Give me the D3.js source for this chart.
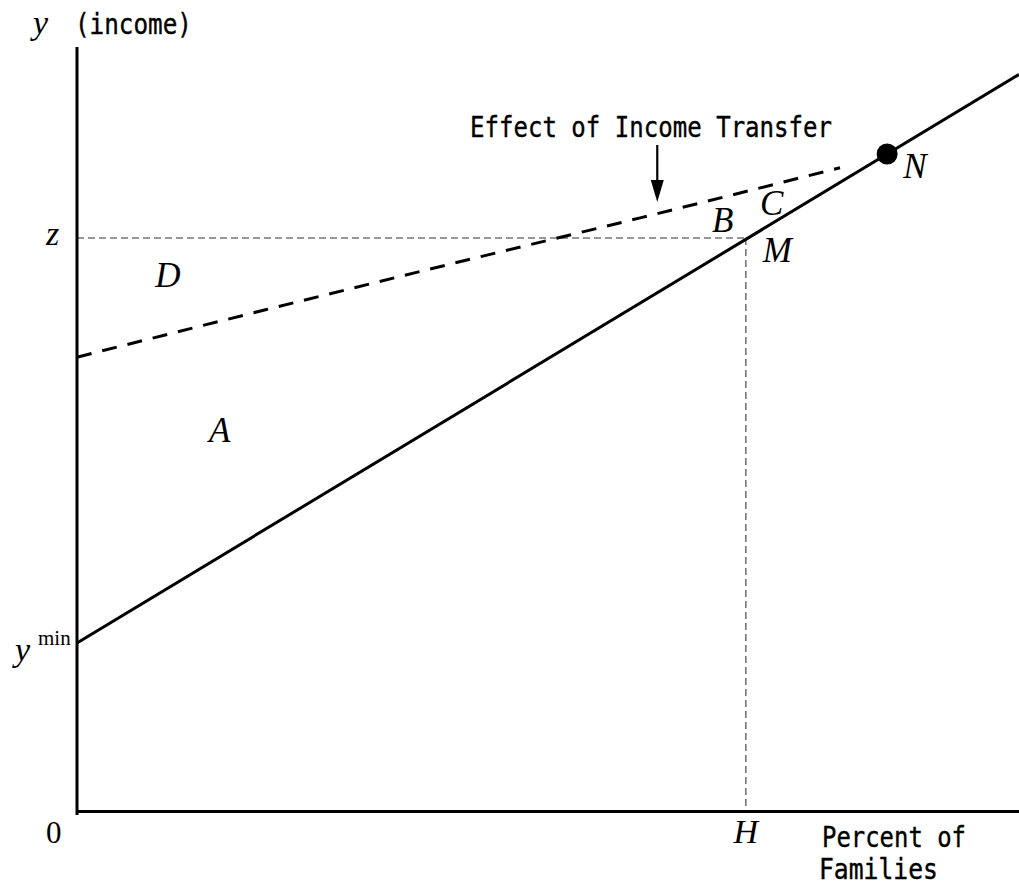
<!DOCTYPE html>
<html>
<head>
<meta charset="utf-8">
<script src="https://cdn.jsdelivr.net/npm/d3@7"></script>
<style>
  html, body { margin: 0; padding: 0; background: #fff; }
  svg { display: block; }
  .it { font-family: "Liberation Serif", "Times New Roman", serif; font-style: italic; fill: #000; }
  .rm { font-family: "Liberation Serif", "Times New Roman", serif; fill: #000; }
  .mono { font-family: "DejaVu Sans Mono", monospace; fill: #000; stroke: #000; stroke-width: 0.4; }
</style>
</head>
<body>
<svg id="chart" width="1019" height="887"></svg>
<script>
// ---- data (in chart units: x = percent of families 0..100, y = income 0..100) ----
const xDomain = [0, 100];
const yDomain = [0, 100];
const incomeLineX = [0, 100];            // solid income distribution line
const incomeLineY = [22, 96.4];
const transferX = [0, 20, 40, 60, 81];   // dashed post-transfer curve
const transferY = [59.4, 65.6, 71.7, 77.7, 84.2];
const povertyLine = 75;                  // z
const headcount = 71;                    // H
const pointN = [86, 86.0];
const areaLabels = ["A", "B", "C", "D"];
const areaLabelX = [14.0, 67.4, 72.5, 8.3];
const areaLabelY = [48.3, 75.8, 78.0, 68.6];
const pointLabels = ["M", "N"];
const pointLabelX = [72.8, 87.7];
const pointLabelY = [71.9, 82.9];

const svg = d3.select("#chart");
const x = d3.scaleLinear().domain(xDomain).range([77, 1019]);
const y = d3.scaleLinear().domain(yDomain).range([811, 47]);

// reference dashed lines (z and H)
svg.append("line")
  .attr("x1", x(0)).attr("x2", x(headcount))
  .attr("y1", y(povertyLine)).attr("y2", y(povertyLine))
  .attr("stroke", "#777").attr("stroke-width", 1.6).attr("stroke-dasharray", "7,4");
svg.append("line")
  .attr("x1", x(headcount)).attr("x2", x(headcount))
  .attr("y1", y(povertyLine)).attr("y2", y(0))
  .attr("stroke", "#777").attr("stroke-width", 1.6).attr("stroke-dasharray", "7,4");

// axes
const xAxis = d3.axisBottom(x).tickValues([]).tickSizeOuter(0);
const yAxis = d3.axisLeft(y).tickValues([]).tickSizeOuter(0);
const gx = svg.append("g").attr("transform", `translate(0,${y(0)})`).call(xAxis);
const gy = svg.append("g").attr("transform", `translate(${x(0)},0)`).call(yAxis);
gx.select(".domain").attr("stroke", "#000").attr("stroke-width", 3);
gy.select(".domain").attr("stroke", "#000").attr("stroke-width", 3)
  .attr("d", `M0,${y(100)}V${y(0) + 4}`);

// solid income line
const line = d3.line().x(d => x(d[0])).y(d => y(d[1]));
svg.append("path")
  .datum(d3.zip(incomeLineX, incomeLineY))
  .attr("d", line)
  .attr("fill", "none").attr("stroke", "#000").attr("stroke-width", 3);

// dashed transfer curve
const curve = d3.line().x(d => x(d[0])).y(d => y(d[1])).curve(d3.curveMonotoneX);
svg.append("path")
  .datum(d3.zip(transferX, transferY))
  .attr("d", curve)
  .attr("fill", "none").attr("stroke", "#000").attr("stroke-width", 3)
  .attr("stroke-dasharray", "15,11");

// point N
svg.append("circle")
  .attr("cx", x(pointN[0])).attr("cy", y(pointN[1])).attr("r", 10.5)
  .attr("fill", "#000");

// arrow
const ax = x(61.6);
svg.append("line")
  .attr("x1", ax).attr("x2", ax).attr("y1", 145).attr("y2", 190)
  .attr("stroke", "#000").attr("stroke-width", 2.2);
svg.append("path")
  .attr("d", `M${ax - 6.5},180 L${ax},202 L${ax + 6.5},180 Z`)
  .attr("fill", "#000");

// annotation
svg.append("text").attr("class", "mono")
  .attr("x", 470).attr("y", 137).attr("font-size", 29)
  .attr("textLength", 362).attr("lengthAdjust", "spacingAndGlyphs")
  .text("Effect of Income Transfer");

// axis titles
svg.append("text").attr("class", "it").attr("x", 33).attr("y", 34).attr("font-size", 34).text("y");
svg.append("text").attr("class", "mono").attr("x", 75).attr("y", 34).attr("font-size", 29)
  .attr("textLength", 117).attr("lengthAdjust", "spacingAndGlyphs").text("(income)");
svg.append("text").attr("class", "mono").attr("x", 822).attr("y", 847).attr("font-size", 29)
  .attr("textLength", 144).attr("lengthAdjust", "spacingAndGlyphs").text("Percent of");
svg.append("text").attr("class", "mono").attr("x", 819).attr("y", 879).attr("font-size", 29)
  .attr("textLength", 119).attr("lengthAdjust", "spacingAndGlyphs").text("Families");

// axis value labels
svg.append("text").attr("class", "rm").attr("x", 46).attr("y", 843).attr("font-size", 31).text("0");
svg.append("text").attr("class", "it").attr("x", 46).attr("y", 245).attr("font-size", 34).text("z");
svg.append("text").attr("class", "it").attr("x", x(headcount)).attr("y", 843)
  .attr("text-anchor", "middle").attr("font-size", 34).text("H");
svg.append("text").attr("class", "it").attr("x", 15).attr("y", 661).attr("font-size", 34).text("y");
svg.append("text").attr("class", "rm").attr("x", 38).attr("y", 645).attr("font-size", 21).text("min");

// area labels and point labels
svg.selectAll("text.area").data(areaLabels).enter().append("text")
  .attr("class", "it area")
  .attr("x", (d, i) => x(areaLabelX[i])).attr("y", (d, i) => y(areaLabelY[i]))
  .attr("font-size", 35).text(d => d);
svg.selectAll("text.pt").data(pointLabels).enter().append("text")
  .attr("class", "it pt")
  .attr("x", (d, i) => x(pointLabelX[i])).attr("y", (d, i) => y(pointLabelY[i]))
  .attr("font-size", 35).text(d => d);
</script>
</body>
</html>
